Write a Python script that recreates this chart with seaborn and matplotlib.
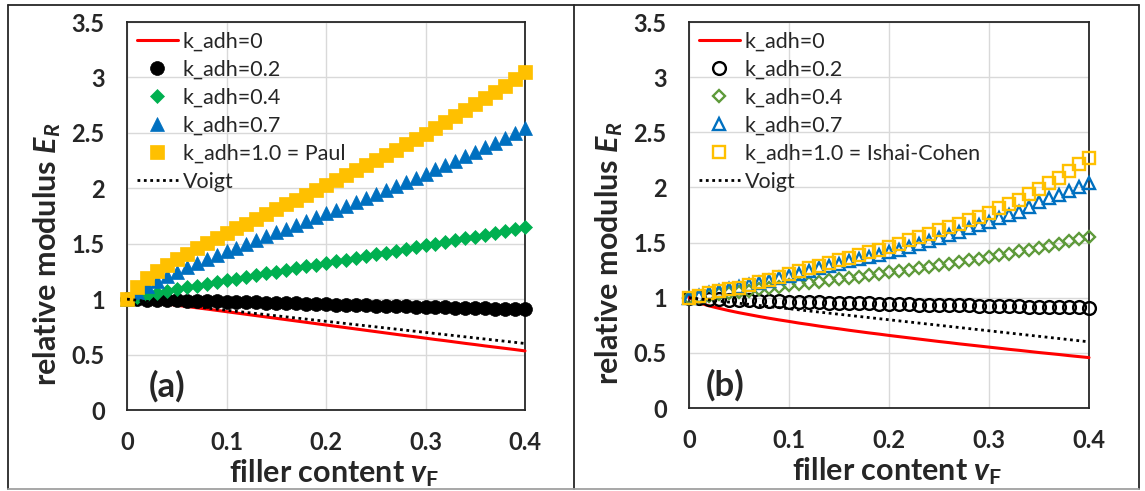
import numpy as np
import pandas as pd
import matplotlib
matplotlib.use("Agg")
import matplotlib.pyplot as plt
from matplotlib.lines import Line2D
import seaborn as sns

# ---------------- data ----------------
v_F = [round(0.01 * i, 2) for i in range(41)]

# panel (a)
a_k0 = [1.000, 0.990, 0.979, 0.968, 0.957, 0.945, 0.934, 0.922, 0.911, 0.899, 0.887,
        0.875, 0.863, 0.851, 0.839, 0.827, 0.815, 0.803, 0.791, 0.779, 0.767,
        0.755, 0.743, 0.731, 0.719, 0.707, 0.695, 0.683, 0.671, 0.660, 0.648,
        0.636, 0.625, 0.613, 0.601, 0.590, 0.578, 0.567, 0.556, 0.545, 0.533]
a_k02 = [1.000, 0.998, 0.995, 0.993, 0.991, 0.988, 0.986, 0.984, 0.982, 0.979, 0.977,
         0.975, 0.972, 0.970, 0.968, 0.965, 0.963, 0.961, 0.958, 0.956, 0.954,
         0.951, 0.949, 0.947, 0.944, 0.942, 0.940, 0.937, 0.935, 0.933, 0.930,
         0.928, 0.926, 0.923, 0.921, 0.919, 0.916, 0.914, 0.912, 0.909, 0.907]
a_k04 = [1.000, 1.020, 1.038, 1.056, 1.073, 1.090, 1.106, 1.122, 1.138, 1.154, 1.170,
         1.186, 1.201, 1.217, 1.233, 1.248, 1.264, 1.279, 1.295, 1.310, 1.326,
         1.341, 1.357, 1.372, 1.388, 1.404, 1.420, 1.435, 1.451, 1.467, 1.484,
         1.500, 1.516, 1.532, 1.549, 1.565, 1.582, 1.599, 1.616, 1.633, 1.650]
a_k07 = [1.000, 1.065, 1.117, 1.164, 1.206, 1.247, 1.286, 1.323, 1.360, 1.395, 1.431,
         1.465, 1.500, 1.534, 1.568, 1.602, 1.636, 1.670, 1.704, 1.738, 1.773,
         1.807, 1.842, 1.877, 1.912, 1.948, 1.984, 2.020, 2.057, 2.094, 2.132,
         2.171, 2.209, 2.248, 2.288, 2.329, 2.369, 2.411, 2.454, 2.496, 2.540]
a_k10 = [1.000, 1.112, 1.188, 1.252, 1.309, 1.362, 1.411, 1.459, 1.505, 1.551, 1.595,
         1.639, 1.682, 1.725, 1.768, 1.811, 1.854, 1.897, 1.940, 1.984, 2.028,
         2.072, 2.117, 2.161, 2.207, 2.253, 2.300, 2.347, 2.395, 2.444, 2.494,
         2.545, 2.597, 2.649, 2.702, 2.757, 2.811, 2.868, 2.927, 2.986, 3.046]

# panel (b)
b_k0 = [1.000, 0.954, 0.926, 0.904, 0.883, 0.864, 0.847, 0.830, 0.814, 0.799, 0.785,
        0.770, 0.757, 0.743, 0.730, 0.718, 0.705, 0.693, 0.681, 0.670, 0.658,
        0.647, 0.636, 0.625, 0.614, 0.603, 0.593, 0.582, 0.572, 0.562, 0.552,
        0.542, 0.532, 0.523, 0.513, 0.503, 0.494, 0.485, 0.475, 0.466, 0.457]
b_k02 = [1.000, 0.995, 0.990, 0.985, 0.982, 0.979, 0.976, 0.973, 0.970, 0.968, 0.965,
         0.963, 0.960, 0.958, 0.956, 0.954, 0.952, 0.950, 0.948, 0.946, 0.944,
         0.942, 0.940, 0.938, 0.937, 0.935, 0.933, 0.931, 0.930, 0.928, 0.926,
         0.925, 0.923, 0.922, 0.920, 0.919, 0.917, 0.916, 0.914, 0.913, 0.911]
b_k04 = [1.000, 1.010, 1.020, 1.035, 1.045, 1.055, 1.065, 1.080, 1.090, 1.100, 1.115,
         1.125, 1.135, 1.145, 1.160, 1.170, 1.180, 1.190, 1.205, 1.215, 1.230,
         1.240, 1.255, 1.265, 1.280, 1.295, 1.310, 1.325, 1.340, 1.355, 1.370,
         1.385, 1.400, 1.420, 1.435, 1.455, 1.470, 1.490, 1.510, 1.530, 1.550]
b_k07 = [1.000, 1.020, 1.040, 1.060, 1.075, 1.095, 1.115, 1.135, 1.155, 1.175, 1.195,
         1.215, 1.240, 1.265, 1.290, 1.310, 1.330, 1.350, 1.370, 1.390, 1.410,
         1.435, 1.460, 1.485, 1.515, 1.545, 1.570, 1.600, 1.630, 1.660, 1.690,
         1.720, 1.750, 1.780, 1.825, 1.865, 1.900, 1.935, 1.970, 2.005, 2.040]
b_k10 = [1.000, 1.020, 1.040, 1.060, 1.075, 1.090, 1.115, 1.140, 1.165, 1.190, 1.215,
         1.240, 1.265, 1.290, 1.315, 1.340, 1.360, 1.385, 1.410, 1.435, 1.460,
         1.490, 1.520, 1.550, 1.580, 1.610, 1.640, 1.670, 1.705, 1.735, 1.770,
         1.810, 1.850, 1.890, 1.940, 1.990, 2.040, 2.090, 2.150, 2.210, 2.270]

voigt_x = [0.0, 0.4]
voigt_y = [1.0, 0.6]

labels_a = ["k_adh=0", "k_adh=0.2", "k_adh=0.4", "k_adh=0.7", "k_adh=1.0 = Paul", "Voigt"]
labels_b = ["k_adh=0", "k_adh=0.2", "k_adh=0.4", "k_adh=0.7", "k_adh=1.0 = Ishai-Cohen", "Voigt"]

x_ticks = [0, 0.1, 0.2, 0.3, 0.4]
x_ticklabels = ["0", "0.1", "0.2", "0.3", "0.4"]
y_ticks = [0, 0.5, 1, 1.5, 2, 2.5, 3, 3.5]
y_ticklabels = ["0", "0.5", "1", "1.5", "2", "2.5", "3", "3.5"]

# ---------------- style ----------------
sns.set_style("white")
FONT = "Lato"
plt.rcParams["font.family"] = [FONT, "DejaVu Sans"]
plt.rcParams["mathtext.fontset"] = "custom"
plt.rcParams["mathtext.rm"] = FONT + ":bold"
plt.rcParams["mathtext.bf"] = FONT + ":bold"
plt.rcParams["mathtext.it"] = FONT + ":italic:bold"

RED = "#FF0000"
BLACK = "#000000"
GREEN_A = "#00B050"
GREEN_B = "#5E9A3A"
BLUE = "#0070C0"
YELLOW = "#FFC000"

fig = plt.figure(figsize=(11.45, 4.91), dpi=100)
W, H = 1145.0, 491.0
ax_a = fig.add_axes([127 / W, 1 - 410 / H, 398 / W, 388 / H])
ax_b = fig.add_axes([689 / W, 1 - 408 / H, 400 / W, 386 / H])


def draw_panel(ax, k0, k02, k04, k07, k10, labels, filled, green, tag):
    sns.lineplot(x=v_F, y=k0, ax=ax, color=RED, linewidth=2.2, label=labels[0],
                 clip_on=False, zorder=3)
    if filled:
        mk = dict(linestyle="", clip_on=False, markeredgewidth=0.5)
        sns.lineplot(x=v_F, y=k02, ax=ax, color=BLACK, marker="o", markersize=10,
                     markerfacecolor=BLACK, markeredgecolor=BLACK, label=labels[1], zorder=4, **mk)
        sns.lineplot(x=v_F, y=k04, ax=ax, color=green, marker="D", markersize=7,
                     markerfacecolor=green, markeredgecolor=green, label=labels[2], zorder=5, **mk)
        sns.lineplot(x=v_F, y=k07, ax=ax, color=BLUE, marker="^", markersize=9.5,
                     markerfacecolor=BLUE, markeredgecolor=BLUE, label=labels[3], zorder=6, **mk)
        sns.lineplot(x=v_F, y=k10, ax=ax, color=YELLOW, marker="s", markersize=10,
                     markerfacecolor=YELLOW, markeredgecolor=YELLOW, label=labels[4], zorder=7, **mk)
    else:
        mk = dict(linestyle="", clip_on=False, markeredgewidth=1.7, markerfacecolor="none")
        sns.lineplot(x=v_F, y=k02, ax=ax, color=BLACK, marker="o", markersize=9.2,
                     markeredgecolor=BLACK, label=labels[1], zorder=4, **mk)
        sns.lineplot(x=v_F, y=k04, ax=ax, color=green, marker="D", markersize=6.6,
                     markeredgecolor=green, label=labels[2], zorder=5, **mk)
        sns.lineplot(x=v_F, y=k07, ax=ax, color=BLUE, marker="^", markersize=9.2,
                     markeredgecolor=BLUE, label=labels[3], zorder=6, **mk)
        sns.lineplot(x=v_F, y=k10, ax=ax, color=YELLOW, marker="s", markersize=9.2,
                     markeredgecolor=YELLOW, label=labels[4], zorder=7, **mk)
    sns.lineplot(x=voigt_x, y=voigt_y, ax=ax, color=BLACK, linewidth=2.0,
                 linestyle=(0, (1, 1.3)), label=labels[5], zorder=8)

    ax.set_xlim(0, 0.4)
    ax.set_ylim(0, 3.5)
    ax.set_xticks(x_ticks)
    ax.set_xticklabels(x_ticklabels)
    ax.set_yticks(y_ticks)
    ax.set_yticklabels(y_ticklabels)
    ax.tick_params(axis="both", length=0, labelsize=17)
    ax.tick_params(axis="x", pad=15)
    ax.tick_params(axis="y", pad=16)
    for t in ax.get_xticklabels() + ax.get_yticklabels():
        t.set_fontweight("bold")
    ax.grid(True, color="#D9D9D9", linewidth=1.0)
    ax.set_axisbelow(True)
    for s in ax.spines.values():
        s.set_visible(True)
        s.set_color("#262626")
        s.set_linewidth(1.3)

    ax.set_xlabel(r"filler content $v_{\mathrm{F}}$", fontsize=22, fontweight="bold")
    ax.set_ylabel(r"relative modulus $E_{R}$", fontsize=22, fontweight="bold")
    ax.xaxis.set_label_coords(0.52, -0.122)
    ax.yaxis.set_label_coords(-0.16, 0.40)

    ax.text(0.10 if tag == "(a)" else 0.09, 0.06, tag, transform=ax.transAxes,
            fontsize=25, fontweight="bold", ha="center", va="center")

    handles, labs = ax.get_legend_handles_labels()
    ax.legend(handles, labs, loc="upper left", bbox_to_anchor=(0.0, 1.0),
              frameon=False, fontsize=15.5, handlelength=1.9, handletextpad=0.25,
              labelspacing=0.37, borderaxespad=0.2, borderpad=0.25)


draw_panel(ax_a, a_k0, a_k02, a_k04, a_k07, a_k10, labels_a, True, GREEN_A, "(a)")
draw_panel(ax_b, b_k0, b_k02, b_k04, b_k07, b_k10, labels_b, False, GREEN_B, "(b)")

# outer frames
def fl(x0, y0, x1, y1, color="#262626", lw=1.3):
    fig.add_artist(Line2D([x0 / W, x1 / W], [1 - y0 / H, 1 - y1 / H],
                          transform=fig.transFigure, color=color, linewidth=lw))

fl(8, 5, 1139, 5)
fl(8, 5, 8, 489)
fl(1139, 5, 1139, 489)
fl(574, 5, 574, 489)
fl(8, 489, 1139, 489, color="#A0A0A0")

fig.savefig("out.png", dpi=100)
